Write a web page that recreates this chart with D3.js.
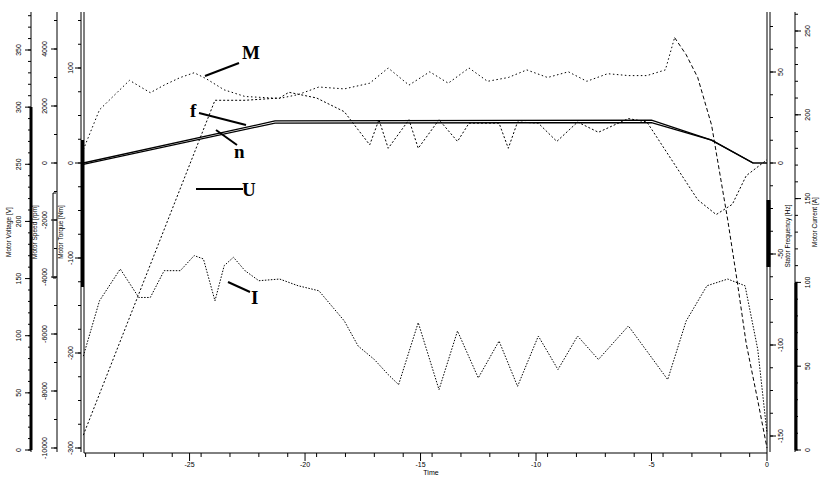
<!DOCTYPE html>
<html><head><meta charset="utf-8">
<script src="https://cdn.jsdelivr.net/npm/d3@7"></script>
<style>body{margin:0;background:#fff}svg{display:block}text{font-family:"Liberation Sans",Arial,sans-serif;fill:#000}</style>
</head><body><svg id="c" width="821" height="480"></svg>
<script>
// ---- data ----
const timeTicks = [-25,-20,-15,-10,-5,0];
const voltTicks = [0,50,100,150,200,250,300,350];
const speedTicks = [-10000,-8000,-6000,-4000,-2000,0,2000,4000];
const torqueTicks = [-300,-200,-100,0,100];
const freqTicks = [-150,-100,-50,0,50];
const currTicks = [0,50,100,150,200,250];

const fTime = [-29.6,-21.3,-5.0,-2.4,-0.6,0];
const fVal  = [0,23.1,23.6,12.6,0,0];
const nTime = [-29.6,-21.3,-5.0,-2.4,-0.6];
const nVal  = [-50,1400,1420,800,0];
const uTime = [-29.6,-23.9,-22.6,-21.1,-20.7,-19.5,-18.3,-17.2,-16.8,-16.4,-15.5,-15.1,-14.2,-13.4,-12.9,-11.6,-11.2,-10.8,-9.9,-9.1,-8.2,-7.3,-6.0,-5.2,-3.0,-2.2,-1.5,-0.9,0];
const uVal  = [13,306,306,308,313,308,296,267,289,264,289,264,289,270,286,286,264,287,286,270,287,278,290,287,219,206,215,240,254];
const iTime = [-29.6,-28.9,-28.0,-27.2,-26.7,-26.1,-25.4,-24.8,-24.4,-23.9,-23.5,-23.1,-22.6,-22.0,-21.1,-20.3,-19.4,-18.3,-17.7,-17.0,-16.4,-15.95,-15.1,-14.2,-13.4,-12.5,-11.6,-10.8,-9.9,-9.05,-8.2,-7.3,-6.0,-5.2,-4.3,-3.5,-2.6,-1.7,-0.95,-0.4,0];
const iVal  = [56,89,108,91,91,107,107,116,114,89,110,115,107,101,102,98,95,77,62,54,45,39,76,36,71,43,65,38,68,48,68,54,74,59,42,77,98,102,98,60,10];
const mTime = [-29.6,-28.9,-27.6,-26.7,-26.1,-25.4,-24.8,-24.3,-23.5,-22.6,-21.1,-20.3,-19.4,-18.3,-17.2,-16.4,-15.5,-14.6,-13.8,-12.9,-12.1,-11.2,-10.4,-9.5,-8.6,-7.8,-6.9,-6.0,-5.2,-4.4,-4.0];
const mVal  = [14,56,87,74,82,90,95,89,77,70,68,72,80,78,84,100,82,96,84,100,86,90,98,90,96,86,94,92,92,98,132];
const mTailTime = [-4.0,-3.5,-3.0,-2.4,-1.7,-1.3,-0.9,-0.4,0];
const mTailVal  = [132,114,90,40,-60,-123,-190,-250,-300];

// ---- layout ----
const svg = d3.select('#c');
const L = 84, R = 767, T = 12, B = 453;
const x = d3.scaleLinear().domain([-29.57,0]).range([L,R]);
const yV = d3.scaleLinear().domain([0,350]).range([450,50]);
const yN = d3.scaleLinear().domain([0,4000]).range([163,49]);
const yM = d3.scaleLinear().domain([0,100]).range([163,68]);
const yF = d3.scaleLinear().domain([0,50]).range([163,72]);
const yI = d3.scaleLinear().domain([0,250]).range([450,31]);

function vline(xp,y1,y2,w){svg.append('line').attr('x1',xp).attr('x2',xp).attr('y1',y1).attr('y2',y2).attr('stroke','#000').attr('stroke-width',w||1);}

function yAxis(scale, ticks, xp, side, title, titleX, titleY, minorStep, labelX){
  vline(xp,T,B-1,1);
  const d = side==='left'?-1:1;
  const lo = scale.invert(B-1), hi = scale.invert(T);
  const mn = Math.min(lo,hi), mx = Math.max(lo,hi);
  for(let v=Math.ceil(mn/minorStep)*minorStep; v<=mx; v+=minorStep){
    svg.append('line').attr('x1',xp).attr('x2',xp+d*3).attr('y1',scale(v)).attr('y2',scale(v)).attr('stroke','#000');
  }
  const g = svg.append('g');
  ticks.forEach(t=>{
    const yp = scale(t);
    g.append('line').attr('x1',xp).attr('x2',xp+d*6).attr('y1',yp).attr('y2',yp).attr('stroke','#000');
    g.append('text').attr('transform',`translate(${labelX},${yp}) rotate(-90)`).attr('text-anchor','middle').attr('dy','0.35em').attr('font-size',7).text(t);
  });
  svg.append('text').attr('transform',`translate(${titleX},${titleY}) rotate(-90)`).attr('text-anchor','middle').attr('font-size',6.5).text(title);
}

yAxis(yV, voltTicks, 31, 'left', 'Motor Voltage [V]', 11, 232, 10, 19);
yAxis(yN, speedTicks, 57, 'left', 'Motor Speed [rpm]', 37, 232, 1000, 45);
yAxis(yM, torqueTicks, 81, 'left', 'Motor Torque [Nm]', 63, 232, 25, 71);
vline(84,T,B,1);
yAxis(yF, freqTicks, 770, 'right', 'Stator Frequency [Hz]', 790, 236, 12.5, 781);
vline(767,T,B,1);
yAxis(yI, currTicks, 795, 'right', 'Motor Current [A]', 817, 222, 10, 808);

// range bars
vline(31,107,450,3);
vline(82.5,140,287,3);
vline(768.5,200,267,4);
vline(796,283,450,3);
svg.append('path').attr('d','M56,193H53V278H56').attr('fill','none').attr('stroke','#000');

// x axis
svg.append('line').attr('x1',L).attr('x2',R).attr('y1',B).attr('y2',B).attr('stroke','#000');
for(let t=-29.5;t<=0.001;t+=1.25){
  const xp=x(t); if(xp<L) continue;
  svg.append('line').attr('x1',xp).attr('x2',xp).attr('y1',B).attr('y2',B+4).attr('stroke','#000');
}
timeTicks.forEach(t=>{
  svg.append('line').attr('x1',x(t)).attr('x2',x(t)).attr('y1',B).attr('y2',B+8).attr('stroke','#000');
  svg.append('text').attr('x',x(t)).attr('y',467).attr('text-anchor','middle').attr('font-size',7).text(t);
});
svg.append('text').attr('x',431).attr('y',475).attr('text-anchor','middle').attr('font-size',7).text('Time');

// curves
function curve(ts, vs, ys, dash, w){
  const line = d3.line().x((d,i)=>x(ts[i])).y((d,i)=>ys(vs[i]));
  svg.append('path').attr('d',line(vs)).attr('fill','none').attr('stroke','#000').attr('stroke-width',w).attr('stroke-dasharray',dash);
}
curve(fTime,fVal,yF,null,1.3);
curve(nTime,nVal,yN,null,1.3);
curve(uTime,uVal,yV,'2,2',1);
curve(iTime,iVal,yI,'1.5,1.5',1);
curve(mTime,mVal,yM,'1.5,2.5',1);
curve(mTailTime,mTailVal,yM,'4,2.5',1);

// annotation labels
function ann(t,tx,ty,lx1,ly1,lx2,ly2){
  svg.append('line').attr('x1',lx1).attr('y1',ly1).attr('x2',lx2).attr('y2',ly2).attr('stroke','#000').attr('stroke-width',2);
  svg.append('text').attr('x',tx).attr('y',ty).attr('font-weight','bold').attr('font-size',19).style('font-family','Liberation Serif').text(t);
}
ann('M',242,59,239,63,205,76);
ann('f',190,117,199,113,246,125);
ann('n',234,158,237,145,216,130);
ann('U',242,196,243,189,196,189);
ann('I',251,304,250,292,228,282);
</script></body></html>
